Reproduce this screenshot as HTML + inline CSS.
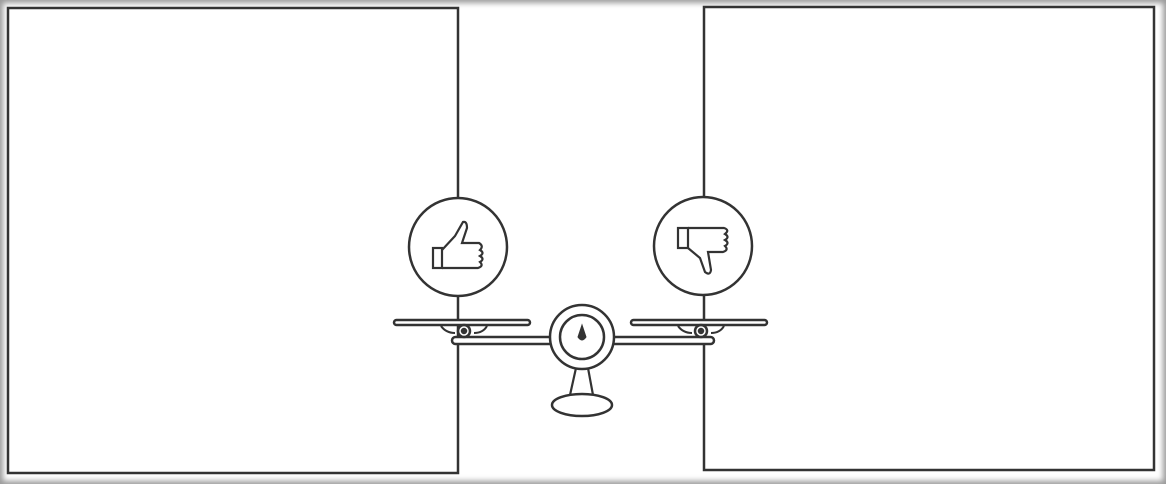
<!DOCTYPE html>
<html><head><meta charset="utf-8"><style>
html,body{margin:0;padding:0;background:#fff;}
#wrap{position:relative;width:1166px;height:484px;overflow:hidden;box-shadow:inset 0 0 6px 3px #9a9a9a;}
svg{position:absolute;left:0;top:0;}
</style></head><body>
<div id="wrap">
<svg width="1166" height="484" viewBox="0 0 1166 484">
<g fill="none" stroke="#333" stroke-width="2.5">
  <rect x="8" y="8" width="450" height="465"/>
  <rect x="704" y="7" width="450" height="463"/>
  <circle cx="458" cy="247" r="49" fill="#fff"/>
  <circle cx="703" cy="246" r="49" fill="#fff"/>
  <g stroke-width="2.2">
    <rect x="433" y="248" width="9" height="20"/>
    <path d="M442 250 L455 236 L463 222 Q467 221 467 228 L462 243 L479 243 Q484 246 480 250 Q485 253 480 256 Q485 259 480 262 Q484 266 478 268 L442 268"/>
  </g>
  <g stroke-width="2.2">
    <rect x="678" y="228" width="10" height="20"/>
    <path d="M688 228 L724 228 Q730 230 725 234 Q730 237 725 240 Q730 243 725 246 Q729 250 723 252 L708 252 L711 270 Q710 276 705 272 L700 258 L688 248"/>
  </g>
  <g>
    <rect x="394" y="320" width="136" height="5" rx="2.5" fill="#fff"/>
    <rect x="631" y="320" width="136" height="5" rx="2.5" fill="#fff"/>
    <path d="M441 326 Q446 333 455 333 M474 333 Q483 333 487 326" stroke-width="2"/>
    <path d="M678 326 Q683 333 692 333 M711 333 Q720 333 724 326" stroke-width="2"/>
    <rect x="452" y="337" width="262" height="7" rx="3.5" fill="#fff"/>
    <circle cx="464" cy="331" r="6" fill="#fff"/><circle cx="464" cy="331" r="2" fill="#333"/>
    <circle cx="701" cy="331" r="6" fill="#fff"/><circle cx="701" cy="331" r="2" fill="#333"/>
    <path d="M576 368 L570 395 M588 368 L593 395" stroke-width="2.2"/>
    <ellipse cx="582" cy="405" rx="30" ry="11" fill="#fff"/>
    <circle cx="582" cy="337" r="32" fill="#fff"/>
    <circle cx="582" cy="337" r="22"/>
    <path d="M582 325 L578 337 Q582 343 586 337 Z" fill="#333" stroke-width="1"/>
  </g>
</g>
</svg>
</div>
</body></html>
